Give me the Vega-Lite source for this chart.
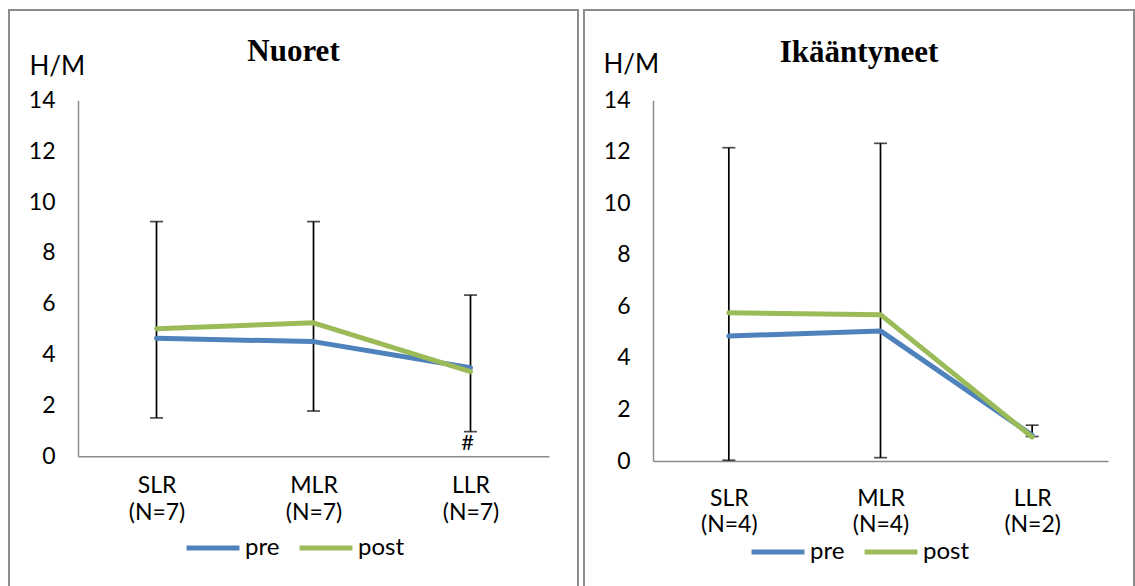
{
  "$schema": "https://vega.github.io/schema/vega-lite/v6.json",
  "background": "white",
  "padding": {"left": 8, "top": 9, "right": 4, "bottom": 0},
  "spacing": 4,
  "datasets": {
    "lines": [
      {"panel": "Nuoret", "cat": "SLR (N=7)", "series": "pre", "value": 4.64},
      {"panel": "Nuoret", "cat": "MLR (N=7)", "series": "pre", "value": 4.51},
      {"panel": "Nuoret", "cat": "LLR (N=7)", "series": "pre", "value": 3.48},
      {"panel": "Nuoret", "cat": "SLR (N=7)", "series": "post", "value": 5.02},
      {"panel": "Nuoret", "cat": "MLR (N=7)", "series": "post", "value": 5.25},
      {"panel": "Nuoret", "cat": "LLR (N=7)", "series": "post", "value": 3.33},
      {"panel": "Ikääntyneet", "cat": "SLR (N=4)", "series": "pre", "value": 4.85},
      {"panel": "Ikääntyneet", "cat": "MLR (N=4)", "series": "pre", "value": 5.05},
      {"panel": "Ikääntyneet", "cat": "LLR (N=2)", "series": "pre", "value": 1.0},
      {"panel": "Ikääntyneet", "cat": "SLR (N=4)", "series": "post", "value": 5.75},
      {"panel": "Ikääntyneet", "cat": "MLR (N=4)", "series": "post", "value": 5.68},
      {"panel": "Ikääntyneet", "cat": "LLR (N=2)", "series": "post", "value": 0.93}
    ],
    "errs": [
      {"panel": "Nuoret", "cat": "SLR (N=7)", "low": 1.51, "high": 9.23},
      {"panel": "Nuoret", "cat": "MLR (N=7)", "low": 1.78, "high": 9.23},
      {"panel": "Nuoret", "cat": "LLR (N=7)", "low": 0.97, "high": 6.34},
      {"panel": "Ikääntyneet", "cat": "SLR (N=4)", "low": 0.03, "high": 12.16},
      {"panel": "Ikääntyneet", "cat": "MLR (N=4)", "low": 0.13, "high": 12.33},
      {"panel": "Ikääntyneet", "cat": "LLR (N=2)", "low": 0.95, "high": 1.39}
    ],
    "notes": [
      {"panel": "Nuoret", "cat": "LLR (N=7)", "y": 0.53, "text": "#"}
    ]
  },
  "resolve": {
    "scale": {"x": "independent", "y": "independent", "color": "independent"},
    "axis": {"x": "independent", "y": "independent"},
    "legend": {"color": "independent"}
  },
  "hconcat": [
    {
      "width": 569,
      "height": 577,
      "title": {"text": "Nuoret", "font": "Liberation Serif", "fontSize": 31, "fontWeight": "bold", "color": "#000", "anchor": "middle", "offset": -82, "baseline": "alphabetic"},
      "layer": [
        {
          "data": {"name": "errs"},
          "transform": [{"filter": "datum.panel == 'Nuoret'"}],
          "mark": {"type": "rule", "color": "black", "strokeWidth": 1.7},
          "encoding": {
            "x": {"field": "cat", "type": "nominal", "sort": ["SLR (N=7)", "MLR (N=7)", "LLR (N=7)"],
              "scale": {"type": "point", "padding": 0.5, "range": [69, 540]},
              "axis": {"offset": -130.7, "ticks": false, "grid": false, "domainColor": "#8c8c8c", "domainWidth": 1.5, "labelExpr": "split(datum.label, ' ')", "labelAngle": 0, "labelFont": "Lato", "labelFontSize": 23, "labelColor": "#000", "labelLineHeight": 27, "labelPadding": 18, "labelBaseline": "top", "title": null}},
            "y": {"field": "low", "type": "quantitative",
              "scale": {"domain": [0, 14], "range": [446.3, 90.3], "nice": false},
              "axis": {"values": [0, 2, 4, 6, 8, 10, 12, 14], "offset": -69, "ticks": false, "grid": false, "domainColor": "#8c8c8c", "domainWidth": 1.5, "labelFont": "Lato", "labelFontSize": 23, "labelColor": "#000", "labelPadding": 23, "labelFlush": false, "title": "H/M", "titleAngle": 0, "titleFont": "Lato", "titleFontSize": 26, "titleFontWeight": "normal", "titleColor": "#000", "titleX": -49, "titleY": 64, "titleAlign": "left", "titleBaseline": "alphabetic"}},
            "y2": {"field": "high"}
          }
        },
        {
          "data": {"name": "errs"},
          "transform": [{"filter": "datum.panel == 'Nuoret'"}],
          "mark": {"type": "tick", "color": "black", "size": 13, "thickness": 1.7},
          "encoding": {
            "x": {"field": "cat", "type": "nominal", "sort": ["SLR (N=7)", "MLR (N=7)", "LLR (N=7)"]},
            "y": {"field": "low", "type": "quantitative"}
          }
        },
        {
          "data": {"name": "errs"},
          "transform": [{"filter": "datum.panel == 'Nuoret'"}],
          "mark": {"type": "tick", "color": "black", "size": 13, "thickness": 1.7},
          "encoding": {
            "x": {"field": "cat", "type": "nominal", "sort": ["SLR (N=7)", "MLR (N=7)", "LLR (N=7)"]},
            "y": {"field": "high", "type": "quantitative"}
          }
        },
        {
          "data": {"name": "lines"},
          "transform": [{"filter": "datum.panel == 'Nuoret'"}],
          "mark": {"type": "line", "strokeWidth": 5, "strokeCap": "round", "strokeJoin": "round"},
          "encoding": {
            "x": {"field": "cat", "type": "nominal", "sort": ["SLR (N=7)", "MLR (N=7)", "LLR (N=7)"]},
            "y": {"field": "value", "type": "quantitative"},
            "color": {"field": "series", "type": "nominal",
              "scale": {"domain": ["pre", "post"], "range": ["#4F81BD", "#9BBB59"]},
              "legend": {"orient": "none", "legendX": 175, "legendY": 509, "direction": "horizontal", "title": null, "symbolType": "stroke", "symbolSize": 2800, "symbolStrokeWidth": 5, "labelFont": "Lato", "labelFontSize": 24, "labelColor": "#000", "labelOffset": 3, "columnPadding": 9, "padding": 0}}
          }
        },
        {
          "data": {"name": "notes"},
          "transform": [{"filter": "datum.panel == 'Nuoret'"}],
          "mark": {"type": "text", "font": "Lato", "fontSize": 22, "color": "#000", "baseline": "middle", "dx": -3},
          "encoding": {
            "x": {"field": "cat", "type": "nominal", "sort": ["SLR (N=7)", "MLR (N=7)", "LLR (N=7)"]},
            "y": {"field": "y", "type": "quantitative"},
            "text": {"field": "text"}
          }
        }
      ]
    },
    {
      "width": 550,
      "height": 577,
      "title": {"text": "Ikääntyneet", "font": "Liberation Serif", "fontSize": 31, "fontWeight": "bold", "color": "#000", "anchor": "middle", "offset": -83, "baseline": "alphabetic"},
      "layer": [
        {
          "data": {"name": "errs"},
          "transform": [{"filter": "datum.panel == 'Ikääntyneet'"}],
          "mark": {"type": "rule", "color": "black", "strokeWidth": 1.7},
          "encoding": {
            "x": {"field": "cat", "type": "nominal", "sort": ["SLR (N=4)", "MLR (N=4)", "LLR (N=2)"],
              "scale": {"type": "point", "padding": 0.5, "range": [69, 524]},
              "axis": {"offset": -126, "ticks": false, "grid": false, "domainColor": "#8c8c8c", "domainWidth": 1.5, "labelExpr": "split(datum.label, ' ')", "labelAngle": 0, "labelFont": "Lato", "labelFontSize": 23, "labelColor": "#000", "labelLineHeight": 26, "labelPadding": 26, "labelBaseline": "top", "title": null}},
            "y": {"field": "low", "type": "quantitative",
              "scale": {"domain": [0, 14], "range": [451, 90.3], "nice": false},
              "axis": {"values": [0, 2, 4, 6, 8, 10, 12, 14], "offset": -69, "ticks": false, "grid": false, "domainColor": "#8c8c8c", "domainWidth": 1.5, "labelFont": "Lato", "labelFontSize": 23, "labelColor": "#000", "labelPadding": 23, "labelFlush": false, "title": "H/M", "titleAngle": 0, "titleFont": "Lato", "titleFontSize": 26, "titleFontWeight": "normal", "titleColor": "#000", "titleX": -50, "titleY": 62, "titleAlign": "left", "titleBaseline": "alphabetic"}},
            "y2": {"field": "high"}
          }
        },
        {
          "data": {"name": "errs"},
          "transform": [{"filter": "datum.panel == 'Ikääntyneet'"}],
          "mark": {"type": "tick", "color": "black", "size": 13, "thickness": 1.7},
          "encoding": {
            "x": {"field": "cat", "type": "nominal", "sort": ["SLR (N=4)", "MLR (N=4)", "LLR (N=2)"]},
            "y": {"field": "low", "type": "quantitative"}
          }
        },
        {
          "data": {"name": "errs"},
          "transform": [{"filter": "datum.panel == 'Ikääntyneet'"}],
          "mark": {"type": "tick", "color": "black", "size": 13, "thickness": 1.7},
          "encoding": {
            "x": {"field": "cat", "type": "nominal", "sort": ["SLR (N=4)", "MLR (N=4)", "LLR (N=2)"]},
            "y": {"field": "high", "type": "quantitative"}
          }
        },
        {
          "data": {"name": "lines"},
          "transform": [{"filter": "datum.panel == 'Ikääntyneet'"}],
          "mark": {"type": "line", "strokeWidth": 5, "strokeCap": "round", "strokeJoin": "round"},
          "encoding": {
            "x": {"field": "cat", "type": "nominal", "sort": ["SLR (N=4)", "MLR (N=4)", "LLR (N=2)"]},
            "y": {"field": "value", "type": "quantitative"},
            "color": {"field": "series", "type": "nominal",
              "scale": {"domain": ["pre", "post"], "range": ["#4F81BD", "#9BBB59"]},
              "legend": {"orient": "none", "legendX": 165, "legendY": 513, "direction": "horizontal", "title": null, "symbolType": "stroke", "symbolSize": 2800, "symbolStrokeWidth": 5, "labelFont": "Lato", "labelFontSize": 24, "labelColor": "#000", "labelOffset": 3, "columnPadding": 9, "padding": 0}}
          }
        }
      ]
    }
  ],
  "config": {
    "view": {"stroke": "#8c8c8c", "strokeWidth": 2, "fill": "white"}
  }
}
